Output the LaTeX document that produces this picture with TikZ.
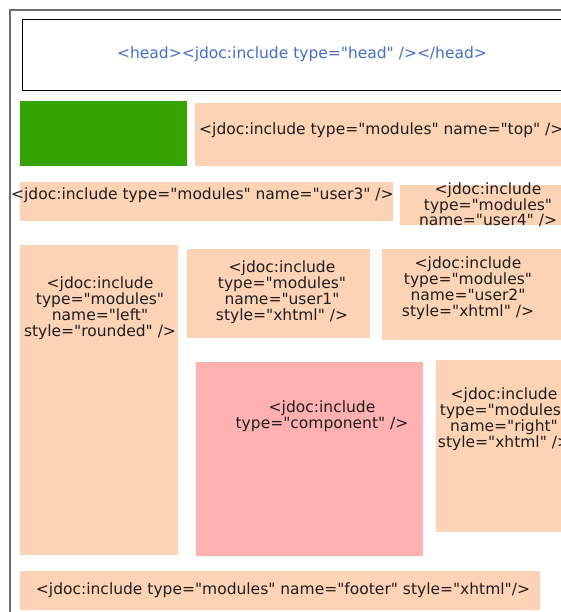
\documentclass[tikz,border=0pt]{standalone}
\usepackage{fontspec}
\setmainfont{DejaVu Sans}[Ligatures=TeXOff]
\definecolor{peach}{RGB}{253,211,182}
\definecolor{greenbox}{RGB}{52,164,0}
\definecolor{pinkbox}{RGB}{255,176,176}
\definecolor{headblue}{RGB}{70,110,200}
\definecolor{txt}{RGB}{30,30,30}
\definecolor{frame}{RGB}{110,110,110}
\begin{document}
\begin{tikzpicture}[x=1pt,y=-1pt,
  box/.style={anchor=north west,inner sep=0pt,outer sep=0pt},
  lbl/.style={font=\fontsize{15.5}{16}\selectfont,text=txt,align=center,inner sep=0pt}]
\useasboundingbox (0,0) rectangle (561,612);
\clip (0,0) rectangle (561,612);
\fill[white] (0,0) rectangle (561,612);
% outer frame
\draw[frame,line width=1.5pt] (10,620) -- (10,10) -- (570,10);
% head
\node[box,draw=black,line width=1pt,minimum width=545pt,minimum height=71pt] (head) at (22,20) {};
\node[lbl,text=headblue] (headt) at (302,54) {<head><jdoc:include type="head" /></head>};
% green
\node[box,fill=greenbox,minimum width=167pt,minimum height=65pt] (green) at (20,101) {};
% top
\node[box,fill=peach,minimum width=370pt,minimum height=63pt] (top) at (195,103) {};
\node[lbl,anchor=west] (topt) at (199,130) {<jdoc:include type="modules" name="top" />};
% user3
\node[box,fill=peach,minimum width=373pt,minimum height=39pt] (user3) at (20,182) {};
\node[lbl,anchor=west] (user3t) at (11,195) {<jdoc:include type="modules" name="user3" />};
% user4
\node[box,fill=peach,minimum width=165pt,minimum height=40pt] (user4) at (400,185) {};
\node[lbl,font=\fontsize{15.5}{15}\selectfont] (user4t) at (488,205) {<jdoc:include\\type="modules"\\name="user4" />};
% left
\node[box,fill=peach,minimum width=158pt,minimum height=310pt] (left) at (20,245) {};
\node[lbl] (leftt) at (100,308) {<jdoc:include\\type="modules"\\name="left"\\style="rounded" />};
% user1
\node[box,fill=peach,minimum width=183pt,minimum height=89pt] (user1) at (187,249) {};
\node[lbl] (user1t) at (282,292) {<jdoc:include\\type="modules"\\name="user1"\\style="xhtml" />};
% user2
\node[box,fill=peach,minimum width=183pt,minimum height=91pt] (user2) at (382,249) {};
\node[lbl] (user2t) at (468,288) {<jdoc:include\\type="modules"\\name="user2"\\style="xhtml" />};
% component
\node[box,fill=pinkbox,minimum width=227pt,minimum height=194pt] (comp) at (196,362) {};
\node[lbl] (compt) at (322,416) {<jdoc:include\\type="component" />};
% right
\node[box,fill=peach,minimum width=130pt,minimum height=172pt] (right) at (436,360) {};
\node[lbl] (rightt) at (504,419) {<jdoc:include\\type="modules"\\name="right"\\style="xhtml" />};
% footer
\node[box,fill=peach,minimum width=520pt,minimum height=39pt] (footer) at (20,571) {};
\node[lbl] (footert) at (283,590) {<jdoc:include type="modules" name="footer" style="xhtml"/>};
\end{tikzpicture}
\end{document}
